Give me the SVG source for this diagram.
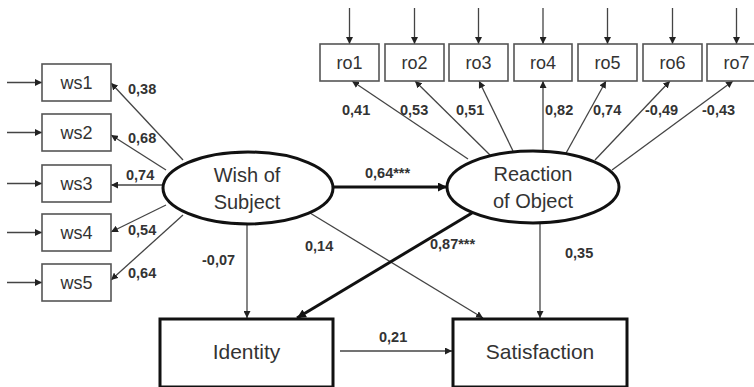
<svg xmlns="http://www.w3.org/2000/svg" width="754" height="387" viewBox="0 0 754 387">
<defs>
<marker id="ah" viewBox="0 0 10 10" refX="10" refY="5" markerWidth="7" markerHeight="7" markerUnits="userSpaceOnUse" orient="auto"><path d="M0,0 L10,5 L0,10 z" fill="#222"/></marker>
<marker id="ahb" viewBox="0 0 10 10" refX="10" refY="5" markerWidth="9" markerHeight="9" markerUnits="userSpaceOnUse" orient="auto"><path d="M0,0 L10,5 L0,10 z" fill="#111"/></marker>
</defs>
<style>
.box{fill:#fff;stroke:#555;stroke-width:1.6}
.bigbox{fill:#fff;stroke:#111;stroke-width:3}
.ell{fill:#fff;stroke:#111;stroke-width:3}
.t{font-family:"Liberation Sans",Arial,sans-serif;font-size:18px;fill:#333;text-anchor:middle}
.tl{font-family:"Liberation Sans",Arial,sans-serif;font-size:20px;fill:#333;text-anchor:middle}
.tb{font-family:"Liberation Sans",Arial,sans-serif;font-size:21px;fill:#333;text-anchor:middle}
.lab{font-family:"Liberation Sans",Arial,sans-serif;font-size:14.5px;font-weight:bold;fill:#333}
.c{stroke:#444;stroke-width:1.3;fill:none;marker-end:url(#ah)}
.ct{stroke:#111;stroke-width:3;fill:none;marker-end:url(#ahb)}
</style>
<g id="connectors">
<line class="c" x1="7" y1="82.5" x2="42" y2="82.5"/>
<line class="c" x1="7" y1="132.5" x2="42" y2="132.5"/>
<line class="c" x1="7" y1="183.5" x2="42" y2="183.5"/>
<line class="c" x1="7" y1="232.5" x2="42" y2="232.5"/>
<line class="c" x1="7" y1="282.5" x2="42" y2="282.5"/>
<line class="c" x1="349.5" y1="8" x2="349.5" y2="44"/>
<line class="c" x1="414.5" y1="8" x2="414.5" y2="44"/>
<line class="c" x1="478.5" y1="8" x2="478.5" y2="44"/>
<line class="c" x1="543" y1="8" x2="543" y2="44"/>
<line class="c" x1="607.5" y1="8" x2="607.5" y2="44"/>
<line class="c" x1="672.5" y1="8" x2="672.5" y2="44"/>
<line class="c" x1="736.5" y1="8" x2="736.5" y2="44"/>
<line class="c" x1="183" y1="160" x2="111" y2="83"/>
<line class="c" x1="166" y1="170" x2="111" y2="135"/>
<line class="c" x1="163" y1="185" x2="111" y2="185"/>
<line class="c" x1="166" y1="205" x2="111" y2="232"/>
<line class="c" x1="183" y1="215" x2="111" y2="280"/>
<line class="c" x1="468" y1="159" x2="352" y2="81"/>
<line class="c" x1="490" y1="155" x2="415" y2="81"/>
<line class="c" x1="513" y1="151" x2="479" y2="81"/>
<line class="c" x1="543" y1="151" x2="543" y2="81"/>
<line class="c" x1="565" y1="155" x2="606" y2="81"/>
<line class="c" x1="595" y1="160" x2="670" y2="81"/>
<line class="c" x1="612" y1="170" x2="733" y2="81"/>
<line class="ct" x1="333" y1="187" x2="447" y2="187"/>
<line class="c" x1="247" y1="224" x2="247" y2="318"/>
<line class="c" x1="310" y1="213" x2="483" y2="318"/>
<line class="ct" x1="472" y1="213" x2="297" y2="318"/>
<line class="c" x1="540" y1="223" x2="540" y2="318"/>
<line class="c" x1="340" y1="351" x2="452" y2="351"/>
</g>
<g id="ws1"><rect class="box" x="42" y="64" width="69" height="37"/><text class="t" x="76.5" y="89">ws1</text></g>
<g id="ws2"><rect class="box" x="42" y="114" width="69" height="37"/><text class="t" x="76.5" y="139">ws2</text></g>
<g id="ws3"><rect class="box" x="42" y="165" width="69" height="37"/><text class="t" x="76.5" y="190">ws3</text></g>
<g id="ws4"><rect class="box" x="42" y="214" width="69" height="37"/><text class="t" x="76.5" y="239">ws4</text></g>
<g id="ws5"><rect class="box" x="42" y="264" width="69" height="37"/><text class="t" x="76.5" y="289">ws5</text></g>
<g id="ro1"><rect class="box" x="320" y="44" width="59" height="37"/><text class="t" x="349.5" y="69">ro1</text></g>
<g id="ro2"><rect class="box" x="385" y="44" width="59" height="37"/><text class="t" x="414.5" y="69">ro2</text></g>
<g id="ro3"><rect class="box" x="449" y="44" width="59" height="37"/><text class="t" x="478.5" y="69">ro3</text></g>
<g id="ro4"><rect class="box" x="514" y="44" width="58" height="37"/><text class="t" x="543" y="69">ro4</text></g>
<g id="ro5"><rect class="box" x="578" y="44" width="59" height="37"/><text class="t" x="607.5" y="69">ro5</text></g>
<g id="ro6"><rect class="box" x="643" y="44" width="59" height="37"/><text class="t" x="672.5" y="69">ro6</text></g>
<g id="ro7"><rect class="box" x="707" y="44" width="59" height="37"/><text class="t" x="736.5" y="69">ro7</text></g>
<g id="wish"><ellipse class="ell" cx="248" cy="188" rx="85" ry="36"/><text class="tl" x="247" y="182">Wish of</text><text class="tl" x="247" y="209">Subject</text></g>
<g id="reaction"><ellipse class="ell" cx="533" cy="187" rx="86" ry="36"/><text class="tl" x="533" y="181">Reaction</text><text class="tl" x="533" y="208">of Object</text></g>
<g id="identity"><rect class="bigbox" x="160" y="319" width="173" height="68"/><text class="tb" x="246.5" y="359">Identity</text></g>
<g id="satisfaction"><rect class="bigbox" x="453" y="319" width="174" height="68"/><text class="tb" x="540" y="359">Satisfaction</text></g>
<g id="labels">
<text class="lab" x="128" y="94">0,38</text>
<text class="lab" x="128" y="143">0,68</text>
<text class="lab" x="126" y="180">0,74</text>
<text class="lab" x="128" y="235">0,54</text>
<text class="lab" x="128" y="278">0,64</text>
<text class="lab" x="342" y="115">0,41</text>
<text class="lab" x="400" y="115">0,53</text>
<text class="lab" x="456" y="115">0,51</text>
<text class="lab" x="545" y="115">0,82</text>
<text class="lab" x="593" y="115">0,74</text>
<text class="lab" x="645" y="115">-0,49</text>
<text class="lab" x="702" y="115">-0,43</text>
<text class="lab" x="365" y="178">0,64***</text>
<text class="lab" x="202" y="265">-0,07</text>
<text class="lab" x="305" y="251">0,14</text>
<text class="lab" x="430" y="249">0,87***</text>
<text class="lab" x="565" y="258">0,35</text>
<text class="lab" x="379" y="342">0,21</text>
</g>
</svg>
